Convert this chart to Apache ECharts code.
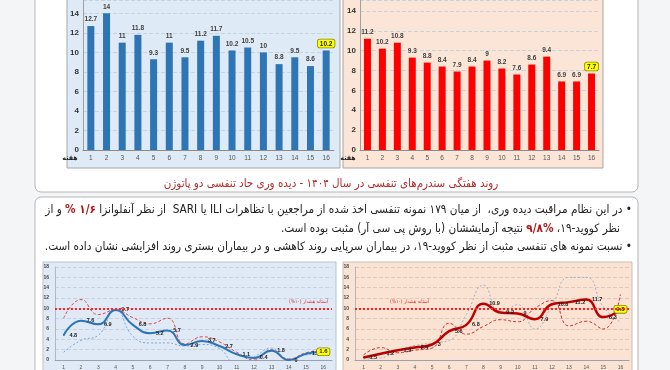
<!DOCTYPE html>
<html><head><meta charset="utf-8">
<script src="https://cdn.jsdelivr.net/npm/echarts@6/dist/echarts.min.js"></script>
<style>html,body{margin:0;padding:0;background:#f4f5f7}#c{width:670px;height:370px}</style>
</head><body><div id="c"></div>
<script>
const weeks = ['1','2','3','4','5','6','7','8','9','10','11','12','13','14','15','16'];
const outpatientBars = [12.7,14,11,11.8,9.3,11,9.5,11.2,11.7,10.2,10.5,10,8.8,9.5,8.6,10.2];
const inpatientBars = [11.2,10.2,10.8,9.3,8.8,8.4,7.9,8.4,9,8.2,7.6,8.6,9.4,6.9,6.9,7.7];
const covidOutMain = [4.8,7.6,6.9,9.7,6.8,5.2,5.7,2.9,3.7,2.7,1.1,0.4,1.8,0,1.2,1.6];
const covidOutUpper = [8.1,11.7,8.8,9.7,8.2,7.0,8.1,3.1,4.5,3.5,1.5,0,2.0,0.2,1.4,2.0];
const covidOutLower = [1.5,3.8,4.8,9.7,4.6,3.3,3.3,2.7,3.0,2.2,-0.8,0.6,2.3,0,1.0,1.3];
const covidInMain = [0.5,1.2,1.9,2.4,3.0,5.6,6.8,10.9,9.2,9.0,7.9,10.8,11.2,11.7,8.3,9.8];
const covidInUpper = [1.0,2.4,1.4,1.9,2.3,7.1,5.0,6.5,7.8,7.4,10.0,11.5,6.6,7.5,6.0,12.7];
const covidInLower = [0.2,0.4,1.9,2.8,3.3,3.8,8.8,14.5,9.0,10.7,6.0,10.5,16.0,16.0,10.3,7.3];
const barTicksLeft = {min:0, max:15.37, interval:2};
const barTicksRight = {min:0, max:15.1, interval:2};
const lineTicks = {min:0, max:18, interval:2};
const weekWord = 'هفته';
const caption = 'روند هفتگی سندرم‌های تنفسی در سال ۱۴۰۴ - دیده وری حاد تنفسی دو پاتوژن';
const thresholdText = 'آستانه هشدار (۱۰%)';
const line1a = '• در این نظام مراقبت دیده وری،  از میان ۱۷۹ نمونه تنفسی اخذ شده از مراجعین با تظاهرات ILI یا SARI  از نظر آنفلوانزا';
const line1b = '۱/۶ %';
const line1c = 'و از';
const line2a = 'نظر کووید-۱۹،';
const line2b = '۹/۸%';
const line2c = 'نتیجه آزمایششان (با روش پی سی آر) مثبت بوده است.';
const line3 = '• نسبت نمونه های تنفسی مثبت از نظر کووید-۱۹، در بیماران سرپایی روند کاهشی و در بیماران بستری روند افزایشی نشان داده است.';

const R = s => '\u202B' + s + '\u202C';
const FA = '"DejaVu Sans Condensed", "DejaVu Sans", sans-serif';
const TS = 11.7;
const chart = echarts.init(document.getElementById('c'), null, {renderer:'canvas'});

const yellow = {backgroundColor:'#ffff00', borderColor:'#8a8a00', borderWidth:0.8, borderRadius:2, padding:[1,2,0,2], color:'#222'};
function barData(arr){ return arr.map((v,i)=> i===arr.length-1 ? {value:v, label:yellow} : v); }
function lineData(arr, dx){ return arr.map((v,i)=> i===arr.length-1 ? {value:v, label:Object.assign({position:'inside', offset:[dx,0], fontSize:6}, yellow)} : v); }

function barAxisX(gi){ return {type:'category', gridIndex:gi, data:weeks, axisTick:{show:false},
  axisLine:{lineStyle:{color:'#8c8c8c'}}, axisLabel:{fontSize:6.5, color:'#555', margin:5}}; }
function barAxisY(gi, ticks){ return Object.assign({type:'value', gridIndex:gi, axisLine:{show:true, lineStyle:{color:'#a0a0a0'}},
  axisLabel:{fontSize:8, fontWeight:'bold', color:'#333', margin:4, showMaxLabel:false},
  splitLine:{lineStyle:{color:'#c9d3de', type:'dashed'}}}, ticks); }
function lineAxisX(gi){ return {type:'category', gridIndex:gi, data:weeks, boundaryGap:true, axisTick:{show:false},
  axisLine:{lineStyle:{color:'#9aa3ad'}}, axisLabel:{fontSize:5, color:'#555', margin:5}}; }
function lineAxisY(gi, col){ return Object.assign({type:'value', gridIndex:gi, axisLine:{show:true, lineStyle:{color:'#b0b8c0'}},
  axisLabel:{fontSize:5, fontWeight:'bold', color:'#444', margin:6}, splitLine:{lineStyle:{color:col, type:'dashed'}}}, lineTicks); }

function thresholdLine(pos, dist){ return {silent:true, symbol:'none', lineStyle:{color:'#ff2020', type:'dotted', width:2},
  label:{show:true, position:pos, formatter:R(thresholdText), fontSize:5, color:'#e03030', fontFamily:FA, distance:dist},
  data:[{yAxis:10}]}; }

const lineLabel = {show:true, position:'right', offset:[-1,4], fontSize:5.5, fontWeight:'bold', color:'#222'};

const option = {
  backgroundColor:'#f4f5f7',
  animation:false,
  graphic:[
    {type:'rect', z:-10, shape:{x:35, y:-20, width:603, height:212, r:6}, style:{fill:'#ffffff', stroke:'#b4b4b4', lineWidth:1}},
    {type:'rect', z:-10, shape:{x:35, y:197, width:603, height:210, r:6}, style:{fill:'#ffffff', stroke:'#b4b4b4', lineWidth:1}},
    {type:'rect', z:-9, shape:{x:67, y:-20, width:273, height:188}, style:{fill:'#deeaf6', stroke:'#a6a6a6', lineWidth:1}},
    {type:'rect', z:-9, shape:{x:343, y:-20, width:260, height:188}, style:{fill:'#fbe5d7', stroke:'#a6a6a6', lineWidth:1}},
    {type:'rect', z:-9, shape:{x:43, y:262, width:293, height:130}, style:{fill:'#dfeaf6', stroke:'#b9c3cd', lineWidth:1}},
    {type:'rect', z:-9, shape:{x:343, y:262, width:289, height:130}, style:{fill:'#fbe3d4', stroke:'#c9bfb7', lineWidth:1}},
    {type:'text', z:10, style:{x:70, y:158, text:R(weekWord), font:'bold 7px '+FA, fill:'#222', align:'center', verticalAlign:'middle'}},
    {type:'text', z:10, style:{x:348, y:158, text:R(weekWord), font:'bold 7px '+FA, fill:'#222', align:'center', verticalAlign:'middle'}},
    {type:'text', z:10, style:{x:331, y:184, text:R(caption), font:'11.5px '+FA, fill:'#b52a2a', align:'center', verticalAlign:'middle'}},
    {type:'text', z:10, style:{x:632, y:210, align:'right', verticalAlign:'middle', font:TS+'px '+FA, fill:'#222',
      text:'{n|'+R(line1c)+'}{n| }{r|'+R(line1b)+'}{n| }{n|'+R(line1a)+'}',
      rich:{n:{font:TS+'px '+FA, fill:'#222'}, r:{font:'bold '+TS+'px '+FA, fill:'#b01818'}}}},
    {type:'text', z:10, style:{x:620, y:229, align:'right', verticalAlign:'middle', font:TS+'px '+FA, fill:'#222',
      text:'{n|'+R(line2c)+'}{n| }{r|'+R(line2b)+'}{n| }{n|'+R(line2a)+'}',
      rich:{n:{font:TS+'px '+FA, fill:'#222'}, r:{font:'bold '+TS+'px '+FA, fill:'#b01818'}}}},
    {type:'text', z:10, style:{x:632, y:247, align:'right', verticalAlign:'middle', text:R(line3), font:TS+'px '+FA, fill:'#222'}}
  ],
  grid:[
    {left:83, right:336, top:0, bottom:220},
    {left:360, right:71, top:0, bottom:220},
    {left:55, right:338, top:267, bottom:7},
    {left:355, right:41, top:267, bottom:7}
  ],
  xAxis:[barAxisX(0), barAxisX(1), lineAxisX(2), lineAxisX(3)],
  yAxis:[barAxisY(0, barTicksLeft), barAxisY(1, barTicksRight), lineAxisY(2,'#c6d2de'), lineAxisY(3,'#e0c8bb')],
  series:[
    {type:'bar', xAxisIndex:0, yAxisIndex:0, data:barData(outpatientBars), barWidth:7,
      itemStyle:{color:'#2e75b6'}, label:{show:true, position:'top', fontSize:6.5, fontWeight:'bold', color:'#404040', distance:3}},
    {type:'bar', xAxisIndex:1, yAxisIndex:1, data:barData(inpatientBars), barWidth:7,
      itemStyle:{color:'#ff0000'}, label:{show:true, position:'top', fontSize:6.5, fontWeight:'bold', color:'#404040', distance:3}},
    {type:'line', xAxisIndex:2, yAxisIndex:2, data:covidOutUpper, smooth:0.5, symbol:'none',
      lineStyle:{color:'#e04848', width:1, type:[3,2]}, z:3},
    {type:'line', xAxisIndex:2, yAxisIndex:2, data:covidOutLower, smooth:0.5, symbol:'none',
      lineStyle:{color:'#7ea6d6', width:1, type:[2,2]}, z:3},
    {type:'line', xAxisIndex:2, yAxisIndex:2, data:lineData(covidOutMain, 5), smooth:0.5, symbol:'circle', symbolSize:1.5,
      showSymbol:true, itemStyle:{color:'#2e75b6'},
      lineStyle:{color:'#2e75b6', width:2}, z:4, label:lineLabel, labelLayout:{hideOverlap:false},
      markLine:thresholdLine('insideEndTop', 4)},
    {type:'line', xAxisIndex:3, yAxisIndex:3, data:covidInUpper, smooth:0.5, symbol:'none',
      lineStyle:{color:'#d03030', width:1, type:[3,2]}, z:3},
    {type:'line', xAxisIndex:3, yAxisIndex:3, data:covidInLower, smooth:0.5, symbol:'none',
      lineStyle:{color:'#9eb0c6', width:1, type:[2,2]}, z:3},
    {type:'line', xAxisIndex:3, yAxisIndex:3, data:lineData(covidInMain, 5), smooth:0.5, symbol:'circle', symbolSize:1.5,
      showSymbol:true, itemStyle:{color:'#c00000'},
      lineStyle:{color:'#c00000', width:2.5}, z:4, label:lineLabel, labelLayout:{hideOverlap:false},
      markLine:thresholdLine('insideStartTop', [35,4])}
  ]
};
chart.setOption(option);
</script></body></html>
